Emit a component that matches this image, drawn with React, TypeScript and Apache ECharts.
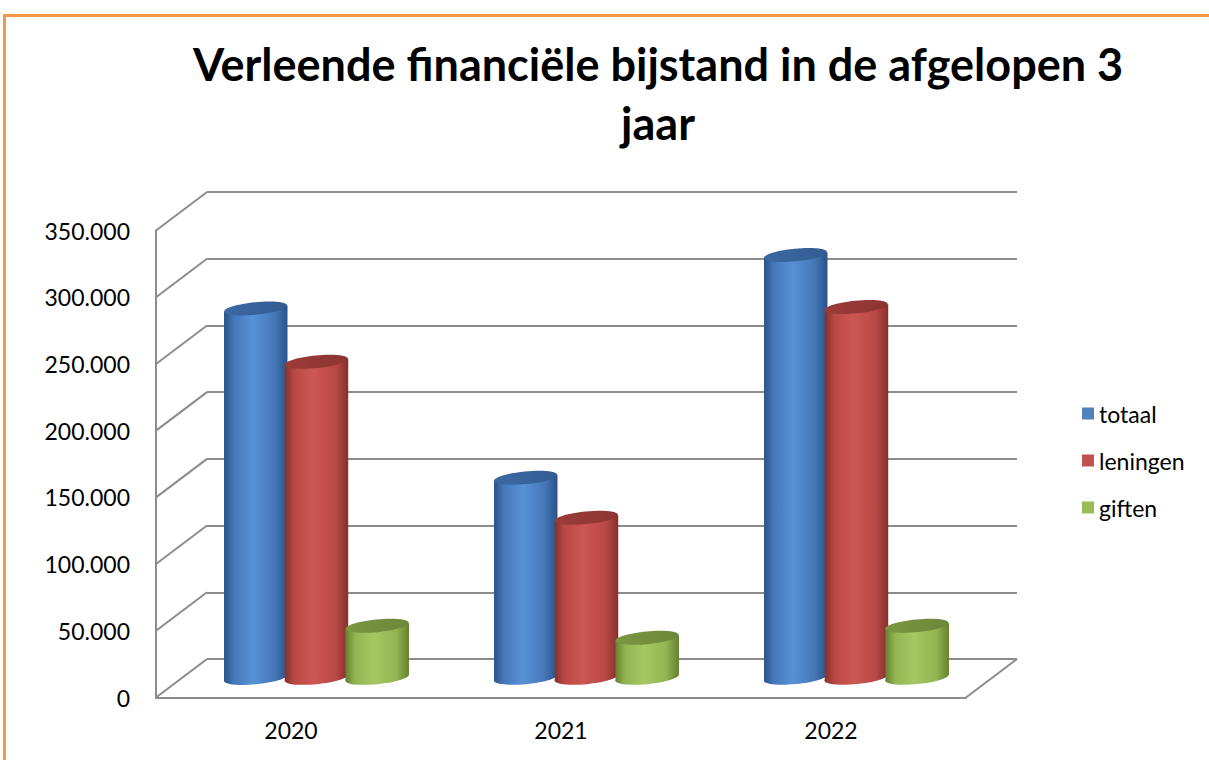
import React, { useEffect, useRef } from 'react';
import * as echarts from 'echarts';

// ---- data ----
const years = ['2020', '2021', '2022'];
const seriesNames = ['totaal', 'leningen', 'giften'];
const totaal = [277000, 150000, 317000];
const leningen = [237000, 120000, 278000];
const giften = [39000, 30000, 39000];
const yTicks = [0, 50000, 100000, 150000, 200000, 250000, 300000, 350000];
const titleLines = ['Verleende financiële bijstand in de afgelopen 3', 'jaar'];

// ---- layout / style ----
const BACK = { left: 207, top: 192, width: 810, height: 467 };
const DEPTH = { dx: -51, dy: 38.5 };
const BAR_W = 0.235;
const BAR_STEP = 0.225;
const TILT = 0.095;
const GRID_COLOR = '#8c8c8c';
const FONT = 'Lato, "Open Sans", sans-serif';

const PALETTE = [
  { base: '#4f81bd', dark: '#2b5288', mid: '#4477b8', light: '#5892d6', top: '#3c69a3', topDark: '#335c92' },
  { base: '#c0504d', dark: '#86302d', mid: '#b84845', light: '#cd5753', top: '#9c3c39', topDark: '#8c3431' },
  { base: '#9bbb59', dark: '#66812f', mid: '#92b452', light: '#a6c862', top: '#7a9741', topDark: '#6c873a' },
];

const fmt = (v: number) => String(v).replace(/\B(?=(\d{3})+(?!\d))/g, '.');

function cylinderRenderer(idx: number) {
  return (params: any, api: any) => {
    const cat = api.value(0);
    const val = api.value(1);
    const top = api.coord([cat, val]);
    const base = api.coord([cat, 0]);
    const band = api.size([1, 0])[0];
    const w = band * BAR_W;
    const cx = top[0] + (idx - 1) * band * BAR_STEP + DEPTH.dx / 2;
    const ty = top[1] + DEPTH.dy / 2;
    const by = base[1] + DEPTH.dy / 2;
    const rx = w / 2;
    const ry = w * 0.1;
    const s = rx * Math.sin(TILT);
    const c = PALETTE[idx];
    const body = () =>
      new echarts.graphic.LinearGradient(0, 0, 1, 0, [
        { offset: 0, color: c.dark },
        { offset: 0.15, color: c.mid },
        { offset: 0.45, color: c.light },
        { offset: 0.8, color: c.mid },
        { offset: 1, color: c.dark },
      ]);
    const topFill = new echarts.graphic.LinearGradient(0, 0, 1, 0, [
      { offset: 0, color: c.top },
      { offset: 1, color: c.topDark },
    ]);
    return {
      type: 'group',
      children: [
        {
          type: 'ellipse',
          shape: { cx, cy: by, rx, ry },
          rotation: TILT,
          originX: cx,
          originY: by,
          style: { fill: body() },
        },
        {
          type: 'polygon',
          shape: {
            points: [
              [cx - rx, ty + s],
              [cx + rx, ty - s],
              [cx + rx, by - s],
              [cx - rx, by + s],
            ],
          },
          style: { fill: body() },
        },
        {
          type: 'ellipse',
          shape: { cx, cy: ty, rx, ry },
          rotation: TILT,
          originX: cx,
          originY: ty,
          style: { fill: topFill },
        },
      ],
    };
  };
}

function wallRenderer(params: any, api: any) {
  const v = api.value(1);
  const p = api.coord([0, v]);
  const cs = params.coordSys;
  const children: any[] = [
    {
      type: 'line',
      shape: { x1: cs.x, y1: p[1], x2: cs.x + DEPTH.dx, y2: p[1] + DEPTH.dy },
      style: { stroke: GRID_COLOR, lineWidth: 2 },
    },
  ];
  if (v === 0) {
    const xr = cs.x + cs.width;
    children.push({
      type: 'line',
      shape: { x1: xr, y1: p[1], x2: xr + DEPTH.dx, y2: p[1] + DEPTH.dy },
      style: { stroke: GRID_COLOR, lineWidth: 2 },
    });
  }
  return { type: 'group', children };
}

export default function App() {
  const ref = useRef<HTMLDivElement>(null);
  useEffect(() => {
    if (!ref.current) return;
    const chart = echarts.init(ref.current, undefined, { renderer: 'svg' });
    const W = 1209;
    const H = 760;
    const front = {
      left: BACK.left + DEPTH.dx,
      top: BACK.top + DEPTH.dy,
      width: BACK.width,
      height: BACK.height,
    };
    const yMax = yTicks[yTicks.length - 1];
    const yStep = yTicks[1] - yTicks[0];
    const values = [totaal, leningen, giften];
    const option: any = {
      animation: false,
      backgroundColor: '#ffffff',
      textStyle: { fontFamily: FONT },
      grid: [
        { left: BACK.left, top: BACK.top, width: BACK.width, height: BACK.height },
        { left: front.left, top: front.top, width: front.width, height: front.height },
      ],
      xAxis: [
        {
          gridIndex: 0,
          type: 'category',
          data: years,
          axisLine: { show: false },
          axisTick: { show: false },
          axisLabel: { show: false },
        },
        {
          gridIndex: 1,
          type: 'category',
          data: years,
          axisLine: { show: true, lineStyle: { color: GRID_COLOR, width: 2 } },
          axisTick: { show: false },
          axisLabel: { show: true, color: '#000', fontSize: 23, fontFamily: FONT, margin: 21 },
        },
      ],
      yAxis: [
        {
          gridIndex: 0,
          type: 'value',
          min: 0,
          max: yMax,
          interval: yStep,
          axisLine: { show: false },
          axisTick: { show: false },
          axisLabel: { show: false },
          splitLine: { show: true, lineStyle: { color: GRID_COLOR, width: 2 } },
        },
        {
          gridIndex: 1,
          type: 'value',
          min: 0,
          max: yMax,
          interval: yStep,
          axisLine: { show: true, lineStyle: { color: GRID_COLOR, width: 2 } },
          axisTick: { show: false },
          splitLine: { show: false },
          axisLabel: {
            show: true,
            color: '#000',
            fontSize: 23,
            fontFamily: FONT,
            margin: 26,
            formatter: (v: number) => fmt(v),
          },
        },
      ],
      legend: {
        data: seriesNames,
        orient: 'vertical',
        left: 1077,
        top: 397,
        itemWidth: 12,
        itemHeight: 12,
        itemGap: 24,
        icon: 'rect',
        textStyle: { fontSize: 23, color: '#000', fontFamily: FONT },
      },
      series: [
        {
          type: 'custom',
          name: '__walls',
          xAxisIndex: 0,
          yAxisIndex: 0,
          silent: true,
          renderItem: wallRenderer,
          encode: { x: 0, y: 1 },
          data: yTicks.map((v) => [0, v]),
          z: 1,
        },
        ...seriesNames.map((name, i) => ({
          type: 'custom',
          name,
          xAxisIndex: 0,
          yAxisIndex: 0,
          renderItem: cylinderRenderer(i),
          itemStyle: { color: PALETTE[i].base },
          encode: { x: 0, y: 1 },
          data: values[i].map((v, k) => [k, v]),
          z: 2 + i,
        })),
      ],
      graphic: [
        {
          type: 'text',
          x: 658,
          y: 93,
          style: {
            text: titleLines.join('\n'),
            font: `bold 45px ${FONT}`,
            fill: '#000',
            textAlign: 'center',
            verticalAlign: 'middle',
            lineHeight: 59,
          },
        },
        {
          type: 'rect',
          shape: { x: 3, y: 14, width: W - 3, height: 3 },
          style: { fill: '#f79646' },
        },
        {
          type: 'rect',
          shape: { x: 3, y: 14, width: 3, height: H - 14 },
          style: { fill: '#f79646' },
        },
      ],
    };
    chart.setOption(option);
    return () => chart.dispose();
  }, []);
  return (
    <div
      ref={ref}
      style={{ position: 'absolute', left: 0, top: 0, width: 1209, height: 760, background: '#fff' }}
    />
  );
}
